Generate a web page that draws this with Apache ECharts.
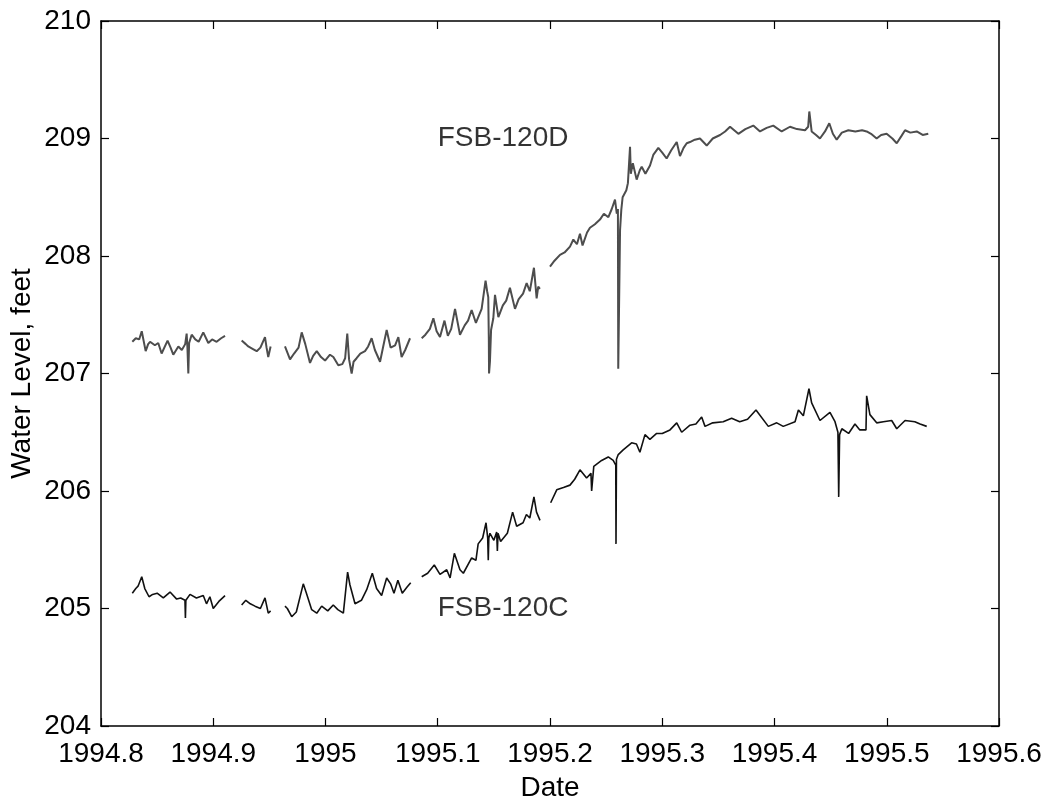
<!DOCTYPE html>
<html>
<head>
<meta charset="utf-8">
<title>Water Level, FSB-120C and FSB-120D</title>
<script src="https://cdn.jsdelivr.net/npm/echarts@6/dist/echarts.min.js"></script>
<style>
  html, body { margin: 0; padding: 0; background: #fff; }
  #chart { width: 1046px; height: 801px; }
</style>
</head>
<body>
<div id="chart"></div>
<script>
// Axis ranges and ticks
const xTicks = [1994.8, 1994.9, 1995.0, 1995.1, 1995.2, 1995.3, 1995.4, 1995.5, 1995.6];
const yTicks = [204, 205, 206, 207, 208, 209, 210];

// Well labels: [decimal year, water level, text]
const wellLabels = [
  [1995.1, 209.0, 'FSB-120D'],
  [1995.1, 205.0, 'FSB-120C']
];

// FSB-120D water level, [decimal year, feet]; null marks a gap in the record
const fsb120D = [
  [1994.8279, 207.27], [1994.8310, 207.30], [1994.8340, 207.29], [1994.8363, 207.36],
  [1994.8398, 207.19], [1994.8420, 207.25], [1994.8437, 207.27], [1994.8480, 207.24],
  [1994.8510, 207.26], [1994.8540, 207.17], [1994.8593, 207.28], [1994.8620, 207.22],
  [1994.8644, 207.16], [1994.8689, 207.23], [1994.8720, 207.20], [1994.8750, 207.25],
  [1994.8763, 207.34], [1994.8770, 207.22], [1994.8778, 207.00], [1994.8785, 207.26],
  [1994.8808, 207.33], [1994.8840, 207.29], [1994.8870, 207.27], [1994.8911, 207.35],
  [1994.8956, 207.26], [1994.8990, 207.29], [1994.9030, 207.27], [1994.9070, 207.30],
  [1994.9105, 207.32],
  null,
  [1994.9253, 207.28], [1994.9290, 207.25], [1994.9312, 207.23], [1994.9350, 207.21],
  [1994.9387, 207.19], [1994.9420, 207.22], [1994.9461, 207.31], [1994.9475, 207.22],
  [1994.9490, 207.14], [1994.9511, 207.23],
  null,
  [1994.9639, 207.23], [1994.9684, 207.12], [1994.9720, 207.17], [1994.9760, 207.22],
  [1994.9788, 207.35], [1994.9820, 207.25], [1994.9862, 207.09], [1994.9890, 207.15],
  [1994.9922, 207.19], [1994.9960, 207.14], [1994.9996, 207.11], [1995.0040, 207.16],
  [1995.0070, 207.14], [1995.0114, 207.07], [1995.0150, 207.08], [1995.0175, 207.13],
  [1995.0194, 207.34], [1995.0210, 207.12], [1995.0233, 207.00], [1995.0250, 207.10],
  [1995.0277, 207.13], [1995.0310, 207.17], [1995.0352, 207.19], [1995.0380, 207.23],
  [1995.0411, 207.30], [1995.0440, 207.20], [1995.0486, 207.10], [1995.0510, 207.21],
  [1995.0545, 207.37], [1995.0580, 207.22], [1995.0620, 207.24], [1995.0649, 207.31],
  [1995.0678, 207.14], [1995.0710, 207.20], [1995.0753, 207.30],
  null,
  [1995.0857, 207.30], [1995.0890, 207.33], [1995.0930, 207.38], [1995.0961, 207.47],
  [1995.0990, 207.36], [1995.1020, 207.31], [1995.1060, 207.45], [1995.1090, 207.32],
  [1995.1120, 207.38], [1995.1154, 207.55], [1995.1198, 207.33], [1995.1240, 207.41],
  [1995.1270, 207.45], [1995.1302, 207.54], [1995.1340, 207.43], [1995.1391, 207.55],
  [1995.1426, 207.79], [1995.1440, 207.70], [1995.1450, 207.65], [1995.1455, 207.30],
  [1995.1457, 207.00], [1995.1465, 207.10], [1995.1475, 207.37], [1995.1495, 207.47],
  [1995.1510, 207.67], [1995.1540, 207.48], [1995.1580, 207.58], [1995.1610, 207.62],
  [1995.1643, 207.73], [1995.1688, 207.55], [1995.1720, 207.63], [1995.1760, 207.68],
  [1995.1792, 207.77], [1995.1820, 207.70], [1995.1857, 207.90], [1995.1881, 207.64],
  [1995.1895, 207.74], [1995.1910, 207.72],
  null,
  [1995.2000, 207.91], [1995.2040, 207.96], [1995.2089, 208.01], [1995.2130, 208.03],
  [1995.2178, 208.08], [1995.2208, 208.14], [1995.2240, 208.10], [1995.2267, 208.19],
  [1995.2290, 208.09], [1995.2330, 208.20], [1995.2356, 208.24], [1995.2400, 208.27],
  [1995.2445, 208.31], [1995.2480, 208.36], [1995.2520, 208.33], [1995.2550, 208.40],
  [1995.2579, 208.48], [1995.2595, 208.36], [1995.2605, 208.40], [1995.2608, 207.04],
  [1995.2620, 207.04], [1995.2624, 208.22], [1995.2635, 208.39], [1995.2647, 208.50],
  [1995.2680, 208.56], [1995.2694, 208.62], [1995.2713, 208.93], [1995.2720, 208.70],
  [1995.2738, 208.79], [1995.2772, 208.65], [1995.2800, 208.73], [1995.2817, 208.76],
  [1995.2850, 208.70], [1995.2891, 208.77], [1995.2920, 208.86], [1995.2965, 208.92],
  [1995.3000, 208.88], [1995.3039, 208.83], [1995.3080, 208.90], [1995.3129, 208.97],
  [1995.3158, 208.85], [1995.3190, 208.92], [1995.3218, 208.96], [1995.3247, 208.97],
  [1995.3290, 208.99], [1995.3336, 209.00], [1995.3396, 208.94], [1995.3450, 209.00],
  [1995.3515, 209.03], [1995.3560, 209.06], [1995.3604, 209.10], [1995.3678, 209.04],
  [1995.3740, 209.08], [1995.3811, 209.11], [1995.3871, 209.06], [1995.3930, 209.09],
  [1995.3989, 209.11], [1995.4064, 209.06], [1995.4138, 209.10], [1995.4200, 209.08],
  [1995.4272, 209.07], [1995.4300, 209.10], [1995.4310, 209.23], [1995.4331, 209.06],
  [1995.4370, 209.03], [1995.4405, 209.00], [1995.4450, 209.06], [1995.4488, 209.13],
  [1995.4520, 209.04], [1995.4554, 208.99], [1995.4600, 209.05], [1995.4658, 209.07],
  [1995.4720, 209.06], [1995.4780, 209.07], [1995.4821, 209.06], [1995.4860, 209.04],
  [1995.4910, 209.00], [1995.4950, 209.03], [1995.4999, 209.04], [1995.5050, 209.00],
  [1995.5089, 208.96], [1995.5130, 209.02], [1995.5163, 209.07], [1995.5210, 209.05],
  [1995.5267, 209.06], [1995.5320, 209.03], [1995.5370, 209.04]
];

// FSB-120C water level, [decimal year, feet]; null marks a gap in the record
const fsb120C = [
  [1994.8279, 205.13], [1994.8310, 205.17], [1994.8330, 205.19], [1994.8363, 205.27],
  [1994.8390, 205.17], [1994.8428, 205.10], [1994.8460, 205.12], [1994.8500, 205.13],
  [1994.8555, 205.09], [1994.8615, 205.14], [1994.8674, 205.08], [1994.8710, 205.09],
  [1994.8748, 205.07], [1994.8752, 204.92], [1994.8756, 205.07], [1994.8793, 205.12],
  [1994.8850, 205.09], [1994.8911, 205.11], [1994.8940, 205.04], [1994.8970, 205.10],
  [1994.9000, 205.00], [1994.9050, 205.06], [1994.9105, 205.11],
  null,
  [1994.9253, 205.03], [1994.9290, 205.07], [1994.9330, 205.04], [1994.9372, 205.02],
  [1994.9420, 205.00], [1994.9461, 205.09], [1994.9490, 204.96], [1994.9511, 204.98],
  null,
  [1994.9639, 205.02], [1994.9660, 205.00], [1994.9699, 204.93], [1994.9740, 204.97],
  [1994.9802, 205.21], [1994.9830, 205.13], [1994.9877, 204.99], [1994.9922, 204.96],
  [1994.9966, 205.02], [1995.0020, 204.98], [1995.0069, 205.03], [1995.0110, 204.99],
  [1995.0159, 204.96], [1995.0197, 205.31], [1995.0218, 205.20], [1995.0263, 205.04],
  [1995.0320, 205.07], [1995.0367, 205.16], [1995.0417, 205.30], [1995.0455, 205.17],
  [1995.0500, 205.11], [1995.0545, 205.26], [1995.0580, 205.21], [1995.0610, 205.13],
  [1995.0645, 205.24], [1995.0684, 205.13], [1995.0725, 205.18], [1995.0759, 205.22],
  null,
  [1995.0857, 205.27], [1995.0910, 205.30], [1995.0969, 205.37], [1995.1020, 205.29],
  [1995.1080, 205.33], [1995.1110, 205.26], [1995.1148, 205.47], [1995.1198, 205.33],
  [1995.1228, 205.30], [1995.1302, 205.43], [1995.1340, 205.41], [1995.1360, 205.55],
  [1995.1400, 205.60], [1995.1430, 205.73], [1995.1445, 205.60], [1995.1450, 205.41],
  [1995.1455, 205.60], [1995.1465, 205.64], [1995.1500, 205.58], [1995.1525, 205.65],
  [1995.1531, 205.49], [1995.1537, 205.64], [1995.1560, 205.57], [1995.1620, 205.64],
  [1995.1667, 205.82], [1995.1703, 205.70], [1995.1760, 205.73], [1995.1790, 205.80],
  [1995.1820, 205.77], [1995.1857, 205.95], [1995.1880, 205.82], [1995.1911, 205.75],
  null,
  [1995.2006, 205.90], [1995.2060, 206.01], [1995.2120, 206.03], [1995.2178, 206.05],
  [1995.2220, 206.10], [1995.2267, 206.18], [1995.2326, 206.11], [1995.2365, 206.15],
  [1995.2371, 206.00], [1995.2390, 206.21], [1995.2460, 206.26], [1995.2519, 206.29],
  [1995.2563, 206.26], [1995.2586, 206.22], [1995.2588, 205.55], [1995.2592, 206.27],
  [1995.2608, 206.31], [1995.2652, 206.35], [1995.2727, 206.41], [1995.2770, 206.40],
  [1995.2801, 206.33], [1995.2846, 206.48], [1995.2890, 206.44], [1995.2950, 206.49],
  [1995.3000, 206.49], [1995.3069, 206.52], [1995.3129, 206.58], [1995.3173, 206.50],
  [1995.3247, 206.56], [1995.3300, 206.57], [1995.3351, 206.63], [1995.3381, 206.55],
  [1995.3450, 206.58], [1995.3543, 206.59], [1995.3618, 206.62], [1995.3690, 206.59],
  [1995.3760, 206.61], [1995.3835, 206.69], [1995.3945, 206.55], [1995.4020, 206.58],
  [1995.4078, 206.55], [1995.4183, 206.59], [1995.4213, 206.69], [1995.4257, 206.64],
  [1995.4307, 206.87], [1995.4331, 206.75], [1995.4405, 206.60], [1995.4494, 206.67],
  [1995.4539, 206.59], [1995.4565, 206.50], [1995.4572, 205.95], [1995.4580, 206.48],
  [1995.4600, 206.53], [1995.4660, 206.49], [1995.4717, 206.57], [1995.4760, 206.52],
  [1995.4815, 206.52], [1995.4821, 206.81], [1995.4850, 206.65], [1995.4910, 206.58],
  [1995.4970, 206.59], [1995.5044, 206.60], [1995.5089, 206.53], [1995.5163, 206.60],
  [1995.5250, 206.59], [1995.5297, 206.57], [1995.5356, 206.55]
];

// Turn null gap markers into points with an empty value so the line breaks there
function withGaps(rows) {
  const out = [];
  let lastYear = null;
  rows.forEach(function (r) {
    if (r === null) {
      out.push([lastYear, null]);
    } else {
      out.push(r);
      lastYear = r[0];
    }
  });
  return out;
}

const FONT = 'Liberation Sans, Arial, Helvetica, sans-serif';
const FS = 28;

function fmtYear(v) {
  return String(+(+v).toFixed(1));
}

const xMin = xTicks[0], xMax = xTicks[xTicks.length - 1];
const yMin = yTicks[0], yMax = yTicks[yTicks.length - 1];

const axisLineStyle = { color: '#000', width: 1.5 };
const tickStyle = { inside: true, length: 8, lineStyle: { color: '#000', width: 1.2 } };

const chart = echarts.init(document.getElementById('chart'), null, { renderer: 'canvas' });

chart.setOption({
  animation: false,
  backgroundColor: '#fff',
  grid: { left: 101, right: 47, top: 21, bottom: 75, containLabel: false, outerBoundsMode: 'none' },
  xAxis: [
    {
      type: 'value', position: 'bottom',
      min: xMin, max: xMax, interval: 0.1,
      name: 'Date', nameLocation: 'middle', nameGap: 48, nameMoveOverlap: false,
      nameTextStyle: { fontFamily: FONT, fontSize: FS, color: '#000' },
      axisLine: { show: true, onZero: false, lineStyle: axisLineStyle },
      axisTick: tickStyle,
      axisLabel: { fontFamily: FONT, fontSize: FS, color: '#000', margin: 14, formatter: fmtYear, hideOverlap: false },
      splitLine: { show: false }
    },
    {
      type: 'value', position: 'top',
      min: xMin, max: xMax, interval: 0.1,
      axisLine: { show: true, onZero: false, lineStyle: axisLineStyle },
      axisTick: tickStyle,
      axisLabel: { show: false },
      splitLine: { show: false }
    }
  ],
  yAxis: [
    {
      type: 'value', position: 'left',
      min: yMin, max: yMax, interval: 1,
      name: 'Water Level, feet', nameLocation: 'middle', nameGap: 65, nameMoveOverlap: false,
      nameTextStyle: { fontFamily: FONT, fontSize: FS, color: '#000' },
      axisLine: { show: true, onZero: false, lineStyle: axisLineStyle },
      axisTick: tickStyle,
      axisLabel: { fontFamily: FONT, fontSize: FS, color: '#000', margin: 10 },
      splitLine: { show: false }
    },
    {
      type: 'value', position: 'right',
      min: yMin, max: yMax, interval: 1,
      axisLine: { show: true, onZero: false, lineStyle: axisLineStyle },
      axisTick: tickStyle,
      axisLabel: { show: false },
      splitLine: { show: false }
    }
  ],
  series: [
    {
      name: 'FSB-120D', type: 'line',
      xAxisIndex: 0, yAxisIndex: 0,
      data: withGaps(fsb120D),
      showSymbol: false, symbol: 'none',
      connectNulls: false,
      lineStyle: { color: '#4d4d4d', width: 2 },
      z: 2
    },
    {
      name: 'FSB-120C', type: 'line',
      xAxisIndex: 0, yAxisIndex: 0,
      data: withGaps(fsb120C),
      showSymbol: false, symbol: 'none',
      connectNulls: false,
      lineStyle: { color: '#111', width: 1.6 },
      z: 3
    },
    {
      name: 'labels', type: 'scatter',
      xAxisIndex: 0, yAxisIndex: 0,
      data: wellLabels,
      symbolSize: 0,
      silent: true,
      label: {
        show: true, position: 'right', distance: 0,
        fontFamily: FONT, fontSize: FS, color: '#000',
        formatter: function (p) { return p.value[2]; }
      },
      z: 4
    }
  ]
});
</script>
</body>
</html>
